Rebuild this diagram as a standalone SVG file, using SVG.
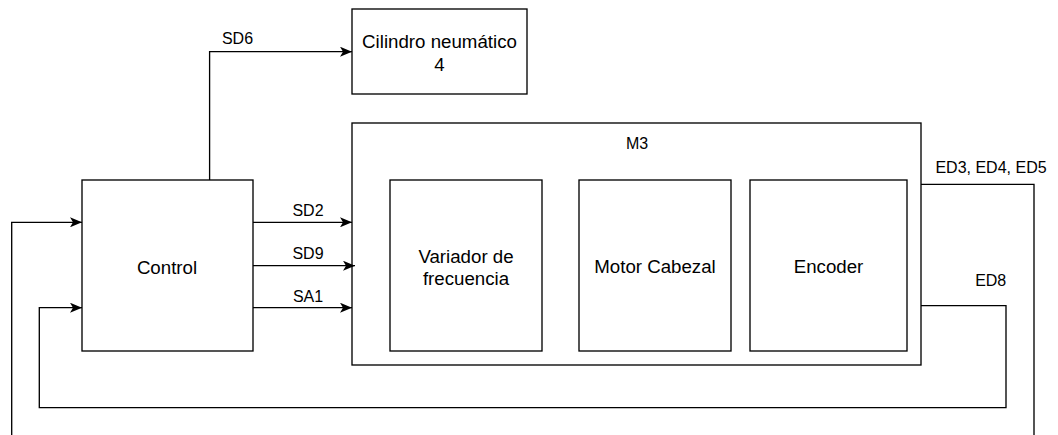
<svg xmlns="http://www.w3.org/2000/svg" width="1058" height="435" viewBox="0 0 1058 435">
<style>
.box{fill:#fff;stroke:#000;stroke-width:1.33}
.t{font-family:"Liberation Sans",Arial,sans-serif;font-size:18.7px;fill:#000;text-anchor:middle}
.l{font-family:"Liberation Sans",Arial,sans-serif;font-size:16px;fill:#000;text-anchor:middle}
.c{fill:none;stroke:#000;stroke-width:1.33}
</style>
<defs>
<marker id="arr" viewBox="0 0 12 10" refX="12" refY="5" markerWidth="12" markerHeight="10" markerUnits="userSpaceOnUse" orient="auto">
<path d="M0,0 L12,5 L0,10 L3,5 z" fill="#000"/>
</marker>
</defs>
<rect width="1058" height="435" fill="#fff"/>
<g id="m3">
<rect class="box" x="352" y="123" width="569" height="242"/>
<text class="l" x="637" y="149">M3</text>
</g>
<g id="cilindro">
<rect class="box" x="352" y="9" width="175" height="85"/>
<text class="t" x="439.5" y="48.3">Cilindro neumático</text>
<text class="t" x="439.5" y="70.7">4</text>
</g>
<g id="control">
<rect class="box" x="82" y="180" width="171" height="171"/>
<text class="t" x="167" y="274">Control</text>
</g>
<g id="variador">
<rect class="box" x="390" y="180" width="152" height="171"/>
<text class="t" x="466" y="262.7">Variador de</text>
<text class="t" x="466" y="285">frecuencia</text>
</g>
<g id="motor">
<rect class="box" x="579" y="180" width="152" height="171"/>
<text class="t" x="655" y="273.3">Motor Cabezal</text>
</g>
<g id="encoder">
<rect class="box" x="750" y="180" width="157" height="171"/>
<text class="t" x="828.5" y="272.7">Encoder</text>
</g>
<g id="connectors">
<path class="c" d="M209.6,180 V51.7 H352" marker-end="url(#arr)"/>
<text class="l" x="237.5" y="43.5">SD6</text>
<path class="c" d="M253,222.3 H352" marker-end="url(#arr)"/>
<text class="l" x="308" y="215.6">SD2</text>
<path class="c" d="M253,265.7 H355" marker-end="url(#arr)"/>
<text class="l" x="308" y="259">SD9</text>
<path class="c" d="M253,307.7 H352" marker-end="url(#arr)"/>
<text class="l" x="308" y="301.7">SA1</text>
<path class="c" d="M921,184.3 H1034 V450 H11.7 V222.3 H82" marker-end="url(#arr)"/>
<text class="l" x="991" y="172.7">ED3, ED4, ED5</text>
<path class="c" d="M921,305.7 H1006 V407.7 H39.3 V307.7 H82" marker-end="url(#arr)"/>
<text class="l" x="990.7" y="286">ED8</text>
</g>
</svg>
